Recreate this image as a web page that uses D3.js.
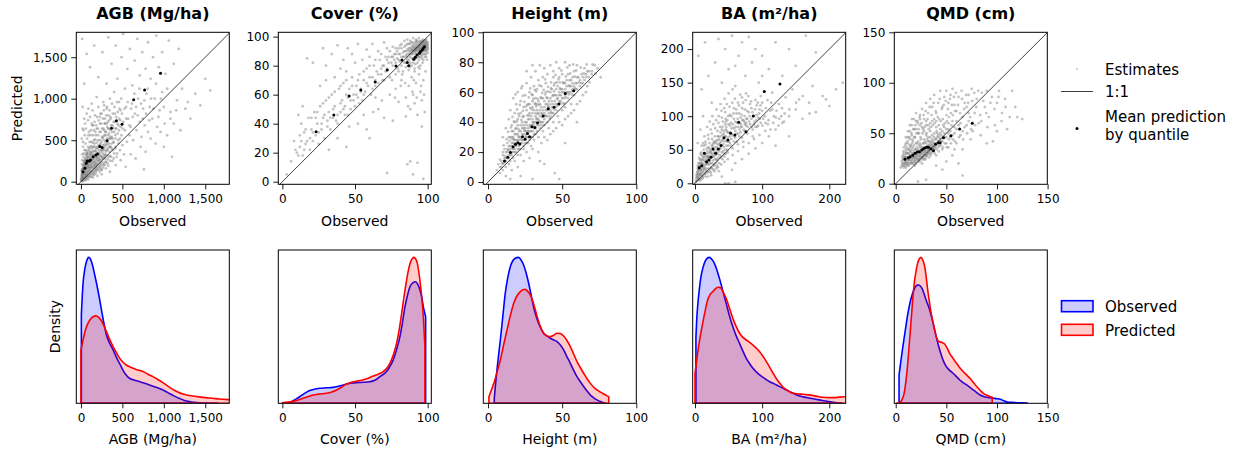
<!DOCTYPE html>
<html><head><meta charset="utf-8">
<script src="https://cdn.jsdelivr.net/npm/d3@7"></script>
<style>body{margin:0;background:#fff}svg text{font-family:"DejaVu Sans",sans-serif}</style>
</head><body><svg id="c" width="1242" height="450"></svg>
<script>
// ---------- data ----------
const titles = ["AGB (Mg/ha)", "Cover (%)", "Height (m)", "BA (m²/ha)", "QMD (cm)"];
const xTicks = [[0, 500, 1000, 1500], [0, 50, 100], [0, 50, 100], [0, 100, 200], [0, 50, 100, 150]];
const yTicks = [[0, 500, 1000, 1500], [0, 20, 40, 60, 80, 100], [0, 20, 40, 60, 80, 100], [0, 50, 100, 150, 200], [0, 50, 100, 150]];
const xDomains = [[-56, 1790], [-2.8, 102.5], [-3.2, 100], [-3.4, 224.4], [-1.4, 149.7]];
const yDomains = [[-31, 1800], [-1.8, 103], [-1.5, 100], [-1.5, 225], [-0.6, 150]];

// Estimates [observed, predicted]
const agbEstimates = [[5,10],[8,40],[10,80],[12,25],[15,120],[18,55],[20,5],[22,160],[25,90],[28,35],[30,200],[32,130],[35,60],[38,15],[40,240],[42,170],[45,100],[48,45],[50,280],[52,200],[55,140],[58,75],[60,20],[62,320],[65,230],[68,170],[70,110],[72,50],[75,360],[78,260],[80,190],[82,130],[85,70],[88,30],[90,300],[92,220],[95,160],[98,95],[100,400],[102,250],[105,180],[108,120],[110,60],[112,340],[115,280],[118,200],[120,140],[125,90],[128,430],[130,310],[135,230],[138,170],[140,110],[145,50],[148,370],[150,260],[155,190],[158,130],[160,80],[165,460],[168,320],[170,240],[175,160],[180,100],[185,400],[188,290],[190,210],[195,140],[200,70],[205,500],[210,350],[215,260],[220,180],[225,120],[230,440],[235,310],[240,220],[245,150],[250,90],[255,540],[30,300],[60,380],[90,250],[120,330],[150,420],[45,200],[75,290],[20,150],[15,260],[35,340],
[260,380],[265,280],[270,200],[280,620],[285,450],[290,330],[295,240],[300,160],[310,700],[315,500],[320,380],[325,270],[330,190],[340,580],[345,420],[350,310],[360,760],[365,520],[370,400],[380,250],[390,650],[395,470],[400,340],[410,820],[415,560],[420,420],[430,300],[440,700],[450,500],[460,620],[470,380],[480,860],[490,560],[500,440],[510,720],[520,330],[530,620],[545,900],[555,480],[570,760],[585,560],[600,660],[615,940],[630,500],[650,820],[670,620],[690,1000],[710,720],[730,540],[750,880],[770,680],[790,1060],[810,600],[830,900],[860,760],[890,1000],[920,660],[950,860],[980,1080],[1010,700],
[15,1720],[40,1180],[70,1540],[90,880],[110,1380],[130,700],[160,1640],[190,1020],[210,1260],[230,780],[260,1560],[280,920],[310,1180],[330,1740],[350,1000],[370,1420],[400,1080],[420,1640],[440,1240],[460,960],[490,1500],[510,1780],[530,1120],[560,1360],[590,1600],[620,1160],[650,1460],[680,1720],[710,1280],[740,1560],[780,1360],[810,1680],[840,1240],[870,1500],[910,1760],[940,1380],[980,1560],[1020,1300],[1060,1700],[1120,1420],[1180,1600],[60,640],[25,480],[45,560],[85,740],[140,860],[180,560],[120,620],
[350,120],[420,200],[480,260],[540,180],[600,330],[660,280],[720,420],[780,360],[840,520],[900,460],[960,600],[1040,560],[1080,840],[1120,700],[1160,980],[1200,620],[1260,880],[1320,760],[1380,1060],[1440,920],[1500,1240],[1100,300],[760,150],[1000,420],[1560,1100],
[3,30],[6,65],[9,15],[11,100],[14,45],[16,140],[19,75],[21,25],[23,110],[26,185],[29,55],[31,150],[33,95],[36,225],[39,40],[41,130],[43,200],[46,80],[49,165],[51,250],[53,30],[56,115],[59,190],[61,270],[63,60],[66,145],[69,215],[71,300],[73,90],[76,170],[79,240],[81,340],[83,55],[86,120],[89,200],[91,270],[93,380],[96,140],[99,210],[101,300],[103,75],[106,160],[109,235],[111,320],[113,420],[116,110],[119,180],[121,260],[123,360],[126,60],[129,200],[131,280],[133,400],[136,130],[139,220],[141,300],[143,470],[146,90],[149,170],[151,330],[153,240],[156,420],[159,110],[161,200],[163,280],[166,370],[169,150],[171,510],[173,230],[176,310],[179,420],[181,190],[183,130],[186,260],[189,350],[191,470],[194,220],[196,300],[199,160],[201,400],[204,250],[207,560],[209,330],[212,200],[214,440],[217,290],[219,150],[222,380],[224,230],[227,500],[229,320],[232,180],[234,420],[237,270],[239,600],[242,360],[244,200],[247,480],[249,300],[252,140],[254,400],[257,240],[259,520],[262,340],[264,170],[267,440],[269,280],[272,640],[274,380],[277,220],[279,500],[282,320],[284,560],[287,200],[289,420],[292,700],[294,280],[297,480],[299,360],[302,600],[305,240],[308,440],[311,320],[314,520],[317,660],[320,220],[324,400],[328,560],[332,300],[336,460],[340,740],[344,360],[348,520],[352,250],[356,620],[360,420],[366,300],[372,540],[378,680],[384,380],[390,480],[396,280],[402,600],[408,720],[414,400],[420,520],[428,640],[436,340],[444,580],[452,460],[460,760],[470,520],[480,660],
[10,520],[30,620],[50,700],[70,820],[20,900],[40,760],[90,560],[110,780],[130,940],[150,680],[170,800],[190,640],[210,900],[230,700],[250,820],[270,960],[290,760],[310,880],[330,800],[20,640],
[15,330],[25,420],[35,250],[45,380],[55,460],[65,340],[75,520],[85,420],[95,600],[105,480],[115,560],[125,480],[135,680],[145,560],[155,620],[165,720],[175,600],[185,680],[195,780],[205,640],[215,740],[225,600],[235,820],[245,700],[255,640],[265,760],[275,860],[285,700],[295,600],[305,800],[315,900],[325,720],[335,640],[345,860],[355,780],[365,680],[375,940],[385,820],[395,720],[405,900],[415,640],[425,780],[435,960],[445,840],[455,680],[465,880],[475,740],[485,1000],[495,820],[505,640],[525,880],[545,760],[565,960],[585,680],[605,880],[625,780],[645,1060],[665,900],[685,800],[705,1120],[725,940],[745,760],[765,980],[785,820],[805,1120],[825,740],[845,1000],[875,880],[905,1180],[935,780],[965,1000],[1000,900],[1040,1120],[1080,760],[1150,860],[1220,1120],[1290,960],
[7,140],[13,210],[17,90],[27,160],[37,120],[47,250],[57,180],[67,90],[77,330],[87,180],[97,260],[107,360],[117,240],[127,170],[137,350],[147,280],[157,500],[167,210],[177,370],[187,180],[197,280],[207,420],[217,340],[227,260],[237,460],[247,380],[257,300],[267,540],[277,400],[287,300],[297,560],[307,380],[317,460],[327,640],[337,520],[347,420],[357,540],[367,460],[377,600],[387,520]];

const coverEstimates = [[80,84],[81,88],[82,80],[82,92],[83,86],[84,90],[84,82],[85,94],[85,87],[86,84],[86,91],[87,88],[87,95],[88,82],[88,90],[88,86],[89,93],[89,88],[90,85],[90,91],[90,96],[91,89],[91,93],[91,86],[92,90],[92,94],[92,87],[92,97],[93,91],[93,88],[93,95],[94,92],[94,89],[94,96],[94,86],[95,93],[95,90],[95,97],[95,88],[96,94],[96,91],[96,95],[96,89],[97,92],[97,96],[97,94],[97,90],[98,93],[98,95],[98,91],[98,97],[99,94],[99,92],[99,96],[99,90],[100,95],[100,93],[100,91],[83,76],[85,79],[87,77],[89,80],[91,78],[93,82],[95,80],[97,84],[99,86],[81,94],[84,97],[86,98],[79,90],[78,82],[80,76],[77,88],[76,93],[90,99],[94,99],[88,79],[96,85],[98,88],[93,93],[95,95],[97,97],[91,91],[89,91],[96,92],[98,94],[94,94],[92,92],[99,98],
[8,28],[10,20],[12,24],[13,40],[14,18],[15,34],[16,26],[18,44],[19,22],[20,36],[21,28],[22,48],[23,32],[24,40],[25,26],[26,52],[27,36],[28,44],[29,30],[30,56],[31,42],[32,48],[33,36],[34,60],[35,44],[36,52],[38,40],[39,64],[40,48],[41,56],[42,68],[43,52],[44,60],[45,46],[46,64],[47,56],[48,72],[49,60],[50,52],[51,66],[52,58],[53,74],[54,64],[55,56],[56,70],[57,62],[58,78],[59,66],[60,72],[62,64],[63,80],[64,70],[65,76],[66,68],[67,84],[68,74],[69,80],[70,70],[71,86],[72,78],[73,82],[74,72],[75,86],[76,80],[78,74],
[17,85],[21,82],[28,92],[30,80],[34,88],[38,94],[42,84],[45,92],[48,88],[52,95],[55,84],[58,91],[62,95],[66,90],[70,96],[72,92],[36,72],[40,78],[44,76],[26,66],[30,70],[14,52],[11,46],[6,14],[3,5],[50,82],[60,86],[64,58],[56,46],[46,38],
[32,22],[38,30],[44,24],[52,40],[58,36],[66,50],[70,44],[74,60],[78,64],[82,70],[85,58],[87,66],[88,50],[89,72],[90,60],[91,54],[92,68],[93,46],[94,74],[95,62],[96,56],[97,70],[98,48],[91,76],[85,45],[80,55],[86,12],[88,14],[93,13],[90,5],[72,6],[97,2],[96,38],[60,30],[76,42],
[85,82],[86,88],[87,92],[87,84],[88,95],[88,88],[89,85],[89,91],[89,96],[90,88],[90,93],[90,82],[91,95],[91,90],[91,84],[92,92],[92,88],[92,85],[92,96],[93,90],[93,93],[93,86],[93,97],[94,91],[94,94],[94,88],[94,84],[95,92],[95,94],[95,89],[95,86],[95,96],[96,93],[96,90],[96,87],[96,97],[96,96],[97,93],[97,91],[97,95],[97,88],[97,98],[98,92],[98,96],[98,90],[98,94],[98,86],[99,93],[99,95],[99,91],[99,97],[99,88],[100,94],[100,92],[100,96],[100,89],[94,93],[95,91],[93,92],[96,92],[97,93],[92,91],[91,92],[90,90],[89,89],[88,92],[87,90],[86,86],[85,90],[84,86],[83,89],[82,86],[81,83],[80,88],[79,85],[78,88],[77,84],[84,93],[86,95],[88,97],[90,94],[92,98],[82,95],[80,92],[78,92],[76,86],[74,90],[75,82],[73,86],[72,84],[70,80],[71,76],[68,78],[69,70],[66,74],[64,66],[62,72],[61,60],[58,68],[56,60],[54,62],[53,54],[51,60],[49,56],[47,50],[45,58],[43,46],[42,50],[40,54],[38,46],[37,42],[35,50],[33,44],[31,38],[29,46],[27,40],[25,34],[23,44],[21,34],[19,30],[17,28],[15,22],[13,28],[11,18],[9,22],[12,32],[16,36],[20,44],[24,48],[28,54],[32,58],[36,62],[40,66],[44,70],[48,66],[52,70],[56,76],[60,80],[64,84],[68,88],
[86.5,52],[89.5,62],[92.5,58],[95.5,66],[97.5,60],[84.5,68],[90.5,70],[94.5,78],[98.5,76],[82.5,74],[87.5,80.5],[91.5,81],[93.5,79],[96.5,82],[99.5,84],[79.5,78],[75.5,70],[81.5,66],[77.5,58],[62.5,48],[68.5,56]];

const heightEstimates = [[6,8],[7,12],[8,6],[8,15],[9,10],[10,18],[10,8],[11,13],[11,22],[12,10],[12,16],[13,20],[13,26],[14,12],[14,18],[15,24],[15,14],[15,30],[16,20],[16,26],[17,16],[17,22],[17,34],[18,28],[18,20],[18,14],[19,24],[19,32],[20,18],[20,28],[20,38],[21,22],[21,30],[22,26],[22,34],[22,18],[23,40],[23,28],[24,22],[24,32],[24,44],[25,26],[25,36],[26,30],[26,20],[26,40],[27,34],[27,26],[28,46],[28,30],[28,38],[29,24],[29,34],[30,42],[30,30],[30,50],[31,36],[31,28],[32,40],[32,46],[32,32],[33,38],[33,52],[34,30],[34,42],[35,36],[35,48],[36,40],[36,56],[37,34],[37,44],[38,50],[38,38],[39,44],[39,60],[40,40],[40,52],[41,46],[41,36],[42,56],[42,44],[43,50],[43,62],[44,46],[44,40],[45,54],[45,66],[46,48],[46,58],[47,52],[47,44],[48,60],[48,70],[49,54],[50,48],[50,62],[51,56],[52,66],[52,50],[53,60],[54,72],[54,56],[55,64],[56,52],[56,68],[57,62],[58,74],[58,58],[59,66],[60,62],[60,78],[61,70],[62,64],[63,72],[64,66],[65,76],[66,70],[67,64],[68,74],[70,72],[72,78],[74,76],[76,70],
[10,30],[12,36],[14,42],[15,48],[16,38],[17,56],[18,46],[19,52],[20,60],[21,44],[22,54],[23,64],[24,50],[25,58],[26,66],[27,52],[28,60],[29,70],[30,58],[31,64],[32,74],[33,62],[34,68],[35,78],[36,64],[37,70],[38,76],[39,66],[40,72],[42,78],[44,70],[46,80],[48,76],[50,72],[52,80],[55,78],[44,74],[30,78],[26,74],
[12,4],[16,8],[20,10],[24,14],[28,16],[30,22],[34,20],[36,26],[38,30],[40,28],[42,32],[44,34],[46,36],[48,40],[50,38],[52,42],[54,44],[56,46],[58,48],[60,52],[62,54],[64,58],[66,60],[22,4],[30,2],[45,6],[48,2],[15,2],[38,12],[52,26],[35,14],[60,40],
[8,10],[9,14],[10,12],[10,20],[11,16],[12,14],[12,20],[13,16],[13,22],[14,16],[14,24],[15,18],[15,22],[16,18],[16,24],[16,30],[17,20],[17,26],[17,30],[18,22],[18,26],[18,32],[19,20],[19,28],[19,36],[20,22],[20,26],[20,32],[21,24],[21,28],[21,34],[22,22],[22,30],[22,38],[23,26],[23,32],[23,36],[24,24],[24,28],[24,36],[25,30],[25,34],[25,40],[26,26],[26,34],[26,38],[27,30],[27,36],[27,42],[28,28],[28,34],[28,42],[29,30],[29,38],[29,44],[30,34],[30,40],[30,46],[31,32],[31,40],[31,48],[32,36],[32,44],[32,52],[33,34],[33,42],[33,48],[34,38],[34,46],[34,54],[35,40],[35,44],[35,52],[36,38],[36,46],[36,50],[37,40],[37,48],[37,56],[38,42],[38,46],[38,54],[39,48],[39,52],[40,44],[40,48],[40,56],[41,50],[41,54],[42,48],[42,52],[42,60],[43,46],[43,54],[44,52],[44,58],[45,50],[45,58],[46,52],[46,62],[47,56],[47,64],[48,54],[48,58],[49,58],[49,62],[50,56],[50,60],[51,60],[51,66],[52,58],[52,62],[53,64],[53,68],[54,60],[55,60],[55,68],[56,64],[57,66],[57,70],[58,64],[59,62],[60,66],[60,70],[62,68],[63,66],[64,70],[65,68],[66,72],[67,74],[70,74],[68,70],[20,42],[24,38],[18,40],[22,46],[26,48],[28,52],[16,34],[14,30],[30,54],[32,56],
[9.5,12.5],[11.5,17.5],[13.5,21.5],[14.5,27.5],[16.5,22.5],[17.5,28.5],[18.5,35.5],[19.5,40.5],[20.5,45.5],[21.5,25.5],[22.5,41.5],[23.5,47.5],[24.5,53.5],[25.5,31.5],[26.5,44.5],[27.5,56.5],[28.5,62.5],[29.5,48.5],[30.5,37.5],[31.5,52.5],[32.5,60.5],[33.5,45.5],[34.5,64.5],[35.5,56.5],[36.5,43.5],[37.5,61.5],[38.5,68.5],[39.5,56.5],[40.5,63.5],[41.5,42.5],[42.5,66.5],[43.5,57.5],[44.5,64.5],[45.5,71.5],[46.5,55.5],[47.5,68.5],[48.5,62.5],[49.5,74.5],[50.5,66.5],[51.5,52.5],[52.5,70.5],[53.5,76.5],[54.5,64.5],[55.5,72.5],[56.5,58.5],[57.5,78.5],[58.5,70.5],[59.5,74.5],[61.5,66.5],[62.5,76.5],[64.5,72.5],[66.5,78.5],[68.5,66.5],[70.5,78.5],[72.5,72.5],[19.5,48.5],[21.5,51.5],[23.5,57.5],[25.5,50.5],[27.5,44.5],[29.5,58.5],[31.5,61.5],[33.5,55.5],[16.5,43.5],[18.5,58.5],[22.5,62.5],[12.5,28.5],[10.5,24.5],[13.5,33.5],[15.5,36.5],[17.5,40.5],[20.5,35.5],[23.5,43.5],[26.5,51.5],[28.5,49.5],[30.5,55.5],[32.5,50.5],[34.5,51.5],[36.5,59.5],[38.5,58.5],[40.5,60.5],[42.5,62.5],[44.5,60.5],[46.5,66.5],[48.5,66.5],[14.5,20.5],[16.5,28.5],[18.5,24.5],[20.5,30.5],[22.5,28.5],[24.5,34.5],[26.5,32.5],[28.5,36.5],[30.5,38.5],[32.5,42.5],[34.5,40.5],[36.5,45.5],[38.5,44.5],[40.5,50.5],[42.5,46.5],[44.5,48.5],[46.5,50.5],[48.5,52.5],[50.5,52.5],[52.5,56.5],[54.5,58.5],[56.5,60.5],[58.5,62.5]];

const baEstimates = [[2,4],[3,10],[4,18],[5,8],[6,26],[7,14],[8,34],[9,20],[10,6],[10,42],[11,28],[12,16],[13,50],[14,34],[15,22],[16,10],[16,58],[17,40],[18,28],[19,16],[20,66],[21,46],[22,34],[23,22],[24,12],[25,74],[26,54],[27,40],[28,28],[29,18],[30,82],[31,60],[32,46],[33,34],[34,24],[35,90],[36,66],[37,52],[38,38],[39,28],[40,98],[41,72],[42,58],[43,44],[44,32],[45,106],[46,80],[47,64],[48,50],[49,36],[50,88],[52,70],[54,56],[56,42],[58,96],[60,78],[62,62],[64,48],[66,104],[68,84],[70,68],[72,54],[74,110],[76,90],[78,74],[80,60],[82,118],[84,96],[86,80],[88,66],[90,124],[92,102],[94,86],[96,72],[98,130],[100,108],
[5,30],[8,44],[12,60],[6,38],[14,70],[18,84],[22,92],[10,56],[20,54],[28,62],[34,70],[40,80],[46,92],[52,102],[58,112],[64,120],[70,128],[76,134],[26,100],[32,110],[38,118],[44,126],[50,134],[56,140],[4,22],[7,30],[11,36],[15,44],[19,38],[24,48],[9,14],[13,24],[17,30],[21,36],[25,40],[30,44],
[5,190],[10,140],[15,210],[20,160],[25,120],[30,180],[35,215],[40,150],[45,200],[50,170],[55,220],[60,145],[65,190],[70,210],[75,160],[80,218],[85,180],[90,200],[95,150],[100,190],[110,170],[120,210],[130,160],[140,200],[150,175],[165,220],[180,195],[12,100],[8,80],[4,60],[60,175],[100,160],[115,135],
[40,10],[55,20],[60,30],[70,36],[80,44],[90,52],[100,60],[110,70],[120,80],[130,90],[140,100],[150,110],[160,96],[170,120],[180,106],[190,130],[200,115],[210,140],[220,150],[105,90],[115,110],[125,118],[135,128],[145,140],[155,125],[175,145],[195,125],[50,0],[60,2],[45,0],[120,56],[140,70],
[1,2],[2,8],[3,14],[3,4],[4,10],[4,26],[5,14],[5,20],[6,6],[6,18],[7,22],[7,8],[8,12],[8,26],[9,16],[9,30],[10,12],[10,24],[11,18],[11,34],[12,10],[12,28],[13,20],[13,38],[14,14],[14,26],[15,32],[15,44],[16,18],[16,28],[17,22],[17,36],[18,48],[18,18],[19,30],[19,40],[20,22],[20,34],[21,28],[21,52],[22,40],[22,18],[23,30],[23,46],[24,24],[24,38],[25,56],[25,30],[26,44],[26,22],[27,34],[27,50],[28,40],[28,60],[29,26],[29,46],[30,36],[30,54],[31,30],[31,42],[32,64],[32,36],[33,50],[33,26],[34,44],[34,58],[35,38],[35,70],[36,48],[36,30],[37,60],[37,42],[38,52],[38,76],[39,40],[39,62],[40,46],[40,56],[41,84],[41,36],[42,66],[42,48],[43,54],[43,74],[44,40],[44,62],[45,50],[45,88],[46,70],[46,44],[47,56],[47,78],[48,62],[48,94],[49,46],[49,68],[50,56],[50,76],[52,60],[52,86],[54,66],[54,100],[56,72],[56,52],[58,82],[58,62],[60,92],[60,68],[62,74],[62,104],[64,84],[64,58],[66,90],[66,70],[68,98],[68,76],[70,84],[70,112],[72,94],[72,62],[74,78],[74,100],[76,86],[78,96],[80,106],[82,88],[84,112],[86,70],[88,100],[90,84],[92,116],[94,98],[96,110],[98,90],[100,120],[104,100],[108,124],[112,108],
[3.5,16],[5.5,24],[7.5,36],[9.5,46],[11.5,40],[13.5,56],[15.5,62],[17.5,52],[19.5,72],[21.5,60],[23.5,80],[25.5,66],[27.5,88],[29.5,70],[31.5,94],[33.5,78],[35.5,100],[37.5,84],[39.5,108],[41.5,92],[43.5,112],[45.5,96],[47.5,118],[49.5,100],[51.5,114],[53.5,90],[55.5,120],[57.5,104],[59.5,126],[61.5,110],[63.5,96],[65.5,116],[67.5,132],[69.5,102],[71.5,120],[73.5,92],[75.5,124],[77.5,108],[79.5,130],[81.5,100],[83.5,122],[85.5,106],[87.5,88],[89.5,110],[91.5,94],[93.5,120],[95.5,104],[97.5,116],[101.5,96],[105.5,112],[109.5,94],[113.5,120],[117.5,100],[121.5,108],[125.5,96],[129.5,112],[133.5,104],[6.5,12],[8.5,20],[10.5,30],[12.5,22],[14.5,40],[16.5,32],[18.5,44],[20.5,40],[22.5,50],[24.5,44],[26.5,58],[28.5,50],[30.5,62],[32.5,54],[34.5,64],[36.5,58],[38.5,70],[40.5,64],[42.5,78],[44.5,70],[46.5,84],[48.5,76],[50.5,62],[52.5,76],[54.5,82],[56.5,88],[58.5,70],[60.5,84],[62.5,90],[64.5,74],[66.5,80],[68.5,88],[70.5,94],[72.5,80],[74.5,88],[76.5,96],[78.5,84],[80.5,92],[84.5,84],[88.5,92],[92.5,84],[96.5,96],[100.5,86],[104.5,78],[108.5,88],[112.5,80],[116.5,90],[120.5,98],[124.5,86],[128.5,100],[132.5,92],[140.5,110],[150.5,120],[160.5,130],[170.5,104],[2.5,12],[4.5,6],[7.5,4],[11.5,8],[15.5,14],[19.5,10],[23.5,16],[27.5,20],[31.5,22],[35.5,18]];

const qmdEstimates = [[6,18],[7,24],[8,20],[9,28],[10,16],[10,22],[11,30],[12,18],[12,26],[13,34],[14,20],[14,28],[15,38],[16,22],[16,30],[17,42],[18,24],[18,32],[19,18],[19,46],[20,26],[20,34],[21,40],[22,22],[22,30],[23,50],[24,26],[24,36],[25,44],[26,20],[26,32],[27,54],[28,28],[28,40],[29,24],[30,36],[30,48],[31,30],[32,58],[32,42],[33,26],[34,36],[34,52],[35,30],[36,44],[36,62],[37,34],[38,50],[39,40],[40,28],[40,56],[41,46],[42,36],[43,64],[44,50],[45,42],[46,34],[47,58],[48,46],[50,40],[50,68],[52,54],[54,46],[56,62],[58,50],[60,72],[62,58],[64,48],[66,66],[68,56],[70,76],
[8,24],[11,26],[13,24],[15,28],[17,26],[19,30],[21,28],[23,32],[25,30],[27,34],[29,32],[31,36],[33,34],[35,38],[9,20],[12,22],[16,26],[20,24],[24,28],[28,36],[32,38],[36,40],[38,36],
[8,36],[10,40],[12,46],[14,52],[16,58],[18,64],[20,70],[22,60],[24,68],[26,74],[28,64],[30,80],[32,70],[34,84],[36,76],[38,88],[40,70],[42,80],[44,92],[46,76],[48,86],[50,92],[52,80],[54,88],[56,94],[58,78],[20,54],[24,58],[28,52],[30,62],[14,44],[10,32],
[62,86],[65,92],[68,80],[72,88],[75,94],[78,70],[80,84],[82,60],[85,90],[88,76],[90,92],[92,66],[95,86],[98,58],[100,80],[102,92],[105,70],[108,84],[110,54],[115,92],[118,76],[120,66],[125,64],[72,62],[76,52],[84,48],[90,40],[96,42],[100,52],[60,40],[66,34],[74,44],
[40,18],[50,22],[56,28],[62,20],[66,8],[30,4],[22,2],[46,14],[52,36],[58,34],
[5,16],[6,22],[7,18],[7,28],[8,16],[8,30],[9,22],[9,26],[10,18],[10,26],[10,34],[11,20],[11,24],[11,36],[12,20],[12,30],[12,40],[13,18],[13,26],[13,30],[14,24],[14,32],[14,38],[15,20],[15,26],[15,32],[16,24],[16,34],[16,40],[17,20],[17,30],[17,36],[18,26],[18,28],[18,38],[19,22],[19,26],[19,34],[20,20],[20,30],[20,40],[21,24],[21,32],[21,36],[22,26],[22,34],[22,42],[23,24],[23,28],[23,38],[24,22],[24,32],[24,40],[25,26],[25,34],[25,38],[26,24],[26,28],[26,36],[27,26],[27,30],[27,40],[28,24],[28,32],[28,44],[29,28],[29,36],[29,42],[30,26],[30,32],[30,40],[31,28],[31,34],[31,44],[32,30],[32,34],[32,46],[33,30],[33,38],[33,42],[34,32],[34,40],[34,46],[35,34],[35,42],[36,32],[36,38],[36,48],[37,36],[37,42],[38,34],[38,40],[38,46],[39,36],[39,44],[40,38],[40,44],[41,40],[41,50],[42,42],[42,48],[43,38],[43,46],[44,44],[44,54],[45,48],[46,42],[46,52],[47,46],[48,50],[48,56],[50,46],[50,54],[52,50],[52,60],[54,52],[55,58],[56,48],[58,56],[60,54],[60,62],[64,60],[66,52],[70,58],[72,70],[10,46],[12,52],[16,48],[18,54],[22,50],[26,56],[30,58],[34,60],[38,64],[40,62],[20,62],[14,58],[16,64],[24,64],
[6.5,20],[7.5,32],[8.5,26],[9.5,38],[10.5,30],[11.5,42],[12.5,34],[13.5,46],[14.5,36],[15.5,50],[16.5,44],[17.5,54],[18.5,46],[19.5,58],[20.5,50],[21.5,62],[22.5,54],[23.5,66],[24.5,46],[25.5,60],[26.5,50],[27.5,68],[28.5,56],[29.5,72],[30.5,50],[31.5,64],[32.5,54],[33.5,76],[34.5,56],[35.5,68],[36.5,58],[37.5,80],[38.5,60],[39.5,72],[40.5,52],[41.5,66],[42.5,58],[43.5,84],[44.5,62],[45.5,74],[46.5,64],[47.5,78],[48.5,60],[49.5,82],[50.5,62],[51.5,74],[52.5,66],[53.5,84],[54.5,70],[55.5,78],[56.5,68],[57.5,86],[58.5,72],[59.5,90],[61.5,78],[63.5,70],[65.5,84],[67.5,74],[69.5,88],[71.5,80],[73.5,66],[75.5,82],[77.5,90],[79.5,76],[81.5,92],[83.5,68],[86.5,82],[89.5,70],[93.5,80],[97.5,74],[101.5,86],[104.5,62],[108.5,76],[112.5,66],[6.5,26],[8.5,18],[10.5,20],[12.5,24],[14.5,22],[16.5,20],[18.5,22],[20.5,28],[22.5,24],[24.5,30],[26.5,26],[28.5,30],[30.5,28],[32.5,32],[34.5,28],[36.5,34],[38.5,30],[40.5,34],[42.5,32],[44.5,38],[46.5,36],[48.5,40],[50.5,36],[52.5,44],[54.5,40],[56.5,44],[58.5,42],[62.5,46],[66.5,44],[70.5,50],[74.5,54],[78.5,58],[84.5,62],[90.5,56]];

// Mean prediction by quantile [observed, predicted]
const agbQuantileMeans = [[24,121],[48,161],[64,222],[76,250],[100,250],[116,262],[148,302],[180,322],[200,334],[228,423],[256,411],[316,495],[368,644],[428,736],[496,692],[636,986],[768,1106],[960,1307]];
const coverQuantileMeans = [[23.2,34.5],[35.4,46],[46,59.1],[54,63.2],[63.9,68.8],[72.2,77],[78.2,79.8],[82.3,83.9],[86,82.1],[86.9,80],[90.4,84.4],[91.5,85.8],[92.7,87.4],[94.3,88.5],[95,89.7],[96.2,90.8],[96.9,91.9],[97.8,93]];
const heightQuantileMeans = [[11.1,14],[13.3,16.5],[15.1,19.8],[16.9,23.6],[18.5,25.2],[20.1,26.3],[21.4,25.4],[23.2,30.3],[25,28.5],[26.6,32.5],[28,30.3],[29.6,37],[31.6,36.5],[33.4,39.6],[37.2,44.1],[40.6,49],[44.5,49.9],[47.8,52.1],[52.1,59.2],[57.8,61]];
const baQuantileMeans = [[6.4,23.3],[9.9,26.2],[13.9,44.6],[17.4,32.2],[20.8,34.7],[23.8,38.7],[26.8,51.1],[30.8,44.6],[34.7,51.1],[38.7,56.5],[43.2,67.9],[49.1,64.5],[53.1,74.4],[59.5,71.9],[65,90.8],[75.9,76.9],[86.8,100.2],[103.2,136.9],[126.5,147.8]];
const qmdQuantileMeans = [[9.2,24.2],[12.5,25.8],[14.2,26.8],[16.8,28.1],[19.1,30.1],[21.4,31.4],[23.4,31.7],[25.7,33.4],[27.4,34.7],[29,35.4],[30.7,36.3],[32.3,36],[34.7,34.7],[37.3,32.7],[39.3,39],[42.3,40.6],[43.9,40.6],[47.2,45.6],[54.5,47.6],[63.1,54.2],[75.6,59.8]];

// Density curves [value, density (relative)]
const agbDensityObserved = [[5,0.58],[25,0.78],[48,0.88],[70,0.93],[92,0.952],[115,0.94],[140,0.9],[165,0.84],[188,0.783],[218,0.7],[248,0.609],[278,0.52],[308,0.446],[348,0.39],[388,0.348],[428,0.3],[468,0.258],[508,0.215],[548,0.183],[590,0.162],[640,0.152],[708,0.141],[768,0.131],[828,0.12],[888,0.108],[948,0.096],[1008,0.082],[1068,0.064],[1128,0.047],[1188,0.032],[1248,0.019],[1308,0.011],[1368,0.006],[1428,0.003],[1520,0.001],[1650,0]];
const agbDensityPredicted = [[0,0.348],[20,0.4],[48,0.467],[75,0.51],[108,0.543],[145,0.565],[180,0.57],[215,0.56],[248,0.537],[278,0.505],[308,0.467],[348,0.415],[388,0.37],[428,0.33],[468,0.293],[508,0.268],[548,0.25],[588,0.238],[628,0.228],[688,0.217],[748,0.207],[808,0.19],[868,0.174],[928,0.155],[988,0.135],[1048,0.112],[1108,0.091],[1168,0.074],[1228,0.061],[1288,0.053],[1348,0.048],[1428,0.042],[1508,0.037],[1588,0.033],[1668,0.028],[1800,0.023],[1900,0.02]];
const coverDensityObserved = [[4.6,0],[8,0.02],[11.9,0.043],[15,0.063],[18.8,0.083],[22,0.092],[25.7,0.098],[30,0.101],[34.9,0.104],[40,0.114],[44.1,0.126],[51,0.135],[56,0.137],[60.2,0.141],[64,0.152],[67.1,0.174],[71.7,0.207],[74,0.24],[76.3,0.283],[78.6,0.35],[80.9,0.435],[82.7,0.53],[84.4,0.63],[86,0.7],[87.8,0.76],[89.7,0.785],[91.7,0.793],[93.2,0.775],[94.7,0.739],[96,0.69],[97,0.63],[98.6,0.565]];
const coverDensityPredicted = [[0,0.004],[3.7,0.008],[7.4,0.013],[11,0.022],[14.3,0.033],[18,0.044],[21.2,0.054],[25,0.06],[30.4,0.065],[34,0.074],[37.3,0.087],[41,0.106],[44.1,0.126],[48,0.138],[53.3,0.148],[58,0.16],[62.5,0.178],[66,0.19],[69.4,0.207],[72,0.23],[74,0.26],[76.5,0.32],[78.6,0.391],[80.4,0.48],[82.1,0.587],[83.8,0.7],[85.5,0.804],[87,0.88],[88.3,0.924],[89.5,0.945],[90.6,0.952],[91.8,0.94],[92.9,0.913],[94,0.85],[95.2,0.76],[96.2,0.66],[97,0.565],[97.6,0.46],[98.1,0.37]];
const heightDensityObserved = [[4.2,0.03],[4.9,0.109],[6.5,0.26],[8.3,0.413],[10,0.57],[11.6,0.717],[13.3,0.82],[15,0.891],[16.7,0.93],[18.4,0.946],[20.6,0.952],[22.3,0.935],[24,0.902],[25.7,0.85],[27.4,0.783],[29,0.71],[30.7,0.63],[32.4,0.57],[34.1,0.522],[35.8,0.485],[37.5,0.457],[40,0.438],[42,0.424],[44,0.415],[46.5,0.402],[48.8,0.38],[51,0.348],[53.2,0.305],[55.5,0.261],[57.8,0.215],[60,0.174],[62.3,0.14],[64.5,0.109],[66.8,0.08],[69,0.054],[71.3,0.036],[73.5,0.022],[75.8,0.011],[78,0.004],[79,0]];
const heightDensityPredicted = [[0.6,0.043],[2.2,0.085],[3.9,0.13],[6,0.2],[8.3,0.283],[10.5,0.38],[12.8,0.478],[15,0.57],[17.3,0.652],[19.5,0.7],[21.8,0.728],[23.5,0.74],[25.2,0.743],[26.8,0.73],[28.5,0.707],[30.2,0.665],[31.9,0.609],[33.6,0.55],[35.3,0.5],[37,0.465],[38.6,0.446],[40.3,0.437],[42,0.435],[44,0.442],[46.5,0.457],[48.8,0.455],[51,0.439],[53.2,0.41],[55.5,0.37],[57.8,0.32],[60,0.272],[62.3,0.232],[64.5,0.196],[66.8,0.16],[69,0.13],[71.3,0.105],[73.5,0.087],[75.8,0.073],[78,0.061],[80,0.05],[81.4,0.043]];
const baDensityObserved = [[1.4,0.43],[2.5,0.54],[3.9,0.63],[6.4,0.74],[8.9,0.826],[11.9,0.885],[14.9,0.924],[18,0.945],[21.4,0.952],[25,0.94],[28.9,0.913],[32.6,0.87],[36.4,0.815],[41.4,0.735],[46.4,0.652],[51.4,0.57],[56.4,0.5],[61.4,0.44],[66.4,0.391],[71.4,0.34],[76.4,0.293],[81.4,0.258],[86.3,0.228],[91.3,0.205],[96.3,0.185],[103.8,0.162],[111.3,0.141],[118.8,0.125],[126.3,0.109],[133.8,0.092],[141.3,0.076],[146.3,0.065],[151.3,0.054],[161.3,0.042],[171.3,0.033],[181.3,0.025],[191.3,0.017],[201,0.01],[211,0.004],[218,0.001]];
const baDensityPredicted = [[0,0.196],[2,0.26],[3.9,0.326],[7.6,0.43],[11.4,0.522],[15,0.6],[18.9,0.674],[22.6,0.71],[26.4,0.728],[30,0.745],[33.9,0.757],[36.4,0.756],[38.9,0.75],[42.6,0.72],[46.4,0.685],[51.4,0.62],[56.4,0.554],[61.4,0.5],[66.4,0.457],[71.4,0.43],[76.4,0.413],[81.4,0.397],[86.3,0.38],[91.3,0.36],[96.3,0.337],[101.3,0.306],[106.3,0.272],[111.3,0.234],[116.3,0.196],[121.3,0.16],[126.3,0.13],[131.3,0.105],[136.3,0.087],[141.3,0.074],[146.3,0.065],[153.8,0.061],[161.3,0.059],[168.8,0.055],[176.3,0.05],[183.8,0.044],[191.3,0.039],[198.8,0.037],[206,0.037],[215,0.04],[225,0.043],[232,0.045]];
const qmdDensityObserved = [[3.3,0.185],[5,0.27],[6.6,0.348],[8.3,0.425],[10,0.5],[11.6,0.57],[13.3,0.63],[15,0.68],[16.6,0.717],[18.3,0.745],[20,0.765],[21.3,0.771],[22.6,0.772],[24.3,0.765],[26,0.75],[28,0.715],[30,0.674],[32.5,0.63],[35,0.576],[37.5,0.505],[40,0.435],[42.5,0.37],[45,0.315],[47.5,0.27],[50,0.239],[53.3,0.215],[56.6,0.196],[60,0.174],[63.3,0.152],[66.6,0.135],[70,0.12],[73.3,0.104],[76.6,0.087],[80,0.07],[83.3,0.054],[86.6,0.045],[90,0.039],[93.3,0.036],[96.6,0.033],[100,0.03],[103.3,0.026],[106.6,0.017],[110,0.009],[115,0.006],[120,0.004],[125,0.003],[130,0.001]];
const qmdDensityPredicted = [[1,0],[3,0.004],[5,0.011],[6.6,0.03],[8.3,0.065],[10,0.14],[11.6,0.239],[13.3,0.38],[15,0.522],[16.6,0.66],[18.3,0.783],[20,0.86],[21.6,0.913],[23.3,0.942],[25,0.952],[26.6,0.935],[28.3,0.902],[30,0.83],[31.6,0.739],[33.3,0.66],[35,0.587],[37.5,0.51],[40,0.435],[41.6,0.41],[43.3,0.402],[45.8,0.397],[48.3,0.387],[50.8,0.36],[53.3,0.326],[56.6,0.293],[60,0.261],[63.3,0.232],[66.6,0.207],[70,0.185],[73.3,0.163],[76.6,0.137],[80,0.109],[83.3,0.085],[86.6,0.065],[90,0.052],[93.3,0.043],[95.3,0.04]];

// ---------- layout ----------
const panels = [
  {est: agbEstimates, q: agbQuantileMeans, dObs: agbDensityObserved, dPred: agbDensityPredicted},
  {est: coverEstimates, q: coverQuantileMeans, dObs: coverDensityObserved, dPred: coverDensityPredicted},
  {est: heightEstimates, q: heightQuantileMeans, dObs: heightDensityObserved, dPred: heightDensityPredicted},
  {est: baEstimates, q: baQuantileMeans, dObs: baDensityObserved, dPred: baDensityPredicted},
  {est: qmdEstimates, q: qmdQuantileMeans, dObs: qmdDensityObserved, dPred: qmdDensityPredicted}
];
const colLeft = [76.3, 278.3, 483.3, 692.7, 894.3];
const axW = 153;
const topY = 32.3, topH = 152;
const botY = 250, botH = 153.3;
const FONT = "DejaVu Sans";
const fmt = d3.format(",");
const EST_R = 1.4, EST_FILL = "#7a7a7a", EST_OP = 0.45;

const svg = d3.select("#c");
const defs = svg.append("defs");

function styleAxis(g) {
  g.attr("font-family", FONT).attr("font-size", 12);
  g.select(".domain").remove();
  g.selectAll(".tick line").attr("stroke", "#000").attr("stroke-width", 0.9);
  g.selectAll(".tick text").attr("fill", "#000");
}

panels.forEach((p, i) => {
  const L = colLeft[i];
  // ---------- scatter ----------
  const x = d3.scaleLinear().domain(xDomains[i]).range([L, L + axW]);
  const y = d3.scaleLinear().domain(yDomains[i]).range([topY + topH, topY]);
  defs.append("clipPath").attr("id", "ct" + i).append("rect")
    .attr("x", L).attr("y", topY).attr("width", axW).attr("height", topH);
  const g = svg.append("g").attr("clip-path", `url(#ct${i})`);
  g.append("g").selectAll("circle").data(p.est).join("circle")
    .attr("cx", d => x(d[0])).attr("cy", d => y(d[1])).attr("r", EST_R)
    .attr("fill", EST_FILL).attr("fill-opacity", EST_OP);
  const lo = Math.min(xDomains[i][0], yDomains[i][0]), hi = Math.max(xDomains[i][1], yDomains[i][1]);
  g.append("line").attr("x1", x(lo)).attr("y1", y(lo)).attr("x2", x(hi)).attr("y2", y(hi))
    .attr("stroke", "#000").attr("stroke-width", 0.75);
  g.append("g").selectAll("circle").data(p.q).join("circle")
    .attr("cx", d => x(d[0])).attr("cy", d => y(d[1])).attr("r", 1.5).attr("fill", "#000");
  svg.append("rect").attr("x", L).attr("y", topY).attr("width", axW).attr("height", topH)
    .attr("fill", "none").attr("stroke", "#000").attr("stroke-width", 1);
  svg.append("g").attr("transform", `translate(0,${topY + topH})`)
    .call(d3.axisBottom(x).tickValues(xTicks[i]).tickFormat(fmt).tickSize(5).tickPadding(5)).call(styleAxis);
  svg.append("g").attr("transform", `translate(${L},0)`)
    .call(d3.axisLeft(y).tickValues(yTicks[i]).tickFormat(fmt).tickSize(5).tickPadding(4)).call(styleAxis);
  svg.append("text").attr("x", L + axW / 2).attr("y", 19).attr("text-anchor", "middle")
    .attr("font-size", 16).attr("font-weight", "bold").text(titles[i]);
  svg.append("text").attr("x", L + axW / 2).attr("y", 226).attr("text-anchor", "middle")
    .attr("font-size", 14).text("Observed");

  // ---------- density ----------
  const xd = d3.scaleLinear().domain(xDomains[i]).range([L, L + axW]);
  const yd = d3.scaleLinear().domain([0, 1]).range([botY + botH, botY]);
  defs.append("clipPath").attr("id", "cb" + i).append("rect")
    .attr("x", L).attr("y", botY).attr("width", axW).attr("height", botH);
  const gd = svg.append("g").attr("clip-path", `url(#cb${i})`);
  const area = d3.area().x(d => xd(d[0])).y0(yd(0)).y1(d => yd(d[1])).curve(d3.curveMonotoneX);
  [[p.dObs, "#0000ff"], [p.dPred, "#ff0000"]].forEach(([data, col]) => {
    gd.append("path").attr("d", area(data)).attr("fill", col).attr("fill-opacity", 0.2)
      .attr("stroke", col).attr("stroke-width", 1.6).attr("stroke-linejoin", "round");
  });
  svg.append("rect").attr("x", L).attr("y", botY).attr("width", axW).attr("height", botH)
    .attr("fill", "none").attr("stroke", "#000").attr("stroke-width", 1);
  svg.append("g").attr("transform", `translate(0,${botY + botH})`)
    .call(d3.axisBottom(xd).tickValues(xTicks[i]).tickFormat(fmt).tickSize(5).tickPadding(5)).call(styleAxis);
  svg.append("text").attr("x", L + axW / 2).attr("y", 444).attr("text-anchor", "middle")
    .attr("font-size", 14).text(titles[i]);
});

// y labels
svg.append("text").attr("transform", `translate(22,${topY + topH / 2}) rotate(-90)`)
  .attr("text-anchor", "middle").attr("font-size", 14).text("Predicted");
svg.append("text").attr("transform", `translate(60,${botY + botH / 2}) rotate(-90)`)
  .attr("text-anchor", "middle").attr("font-size", 14).text("Density");

// ---------- legends ----------
const lg = svg.append("g").attr("font-family", FONT).attr("font-size", 15);
lg.append("circle").attr("cx", 1077).attr("cy", 69).attr("r", 1.05).attr("fill", EST_FILL).attr("fill-opacity", EST_OP);
lg.append("text").attr("x", 1105).attr("y", 74.5).text("Estimates");
lg.append("line").attr("x1", 1061).attr("x2", 1093).attr("y1", 91.5).attr("y2", 91.5).attr("stroke", "#000").attr("stroke-width", 0.75);
lg.append("text").attr("x", 1105).attr("y", 97).text("1:1");
lg.append("circle").attr("cx", 1077).attr("cy", 128.5).attr("r", 1.5).attr("fill", "#000");
lg.append("text").attr("x", 1105).attr("y", 122).text("Mean prediction");
lg.append("text").attr("x", 1105).attr("y", 139.5).text("by quantile");

lg.append("rect").attr("x", 1061.5).attr("y", 300.7).attr("width", 31.5).attr("height", 11)
  .attr("fill", "#0000ff").attr("fill-opacity", 0.2).attr("stroke", "#0000ff").attr("stroke-width", 1.6);
lg.append("text").attr("x", 1105).attr("y", 312).text("Observed");
lg.append("rect").attr("x", 1061.5).attr("y", 324.3).attr("width", 31.5).attr("height", 11)
  .attr("fill", "#ff0000").attr("fill-opacity", 0.2).attr("stroke", "#ff0000").attr("stroke-width", 1.6);
lg.append("text").attr("x", 1105).attr("y", 335.5).text("Predicted");
</script></body></html>
